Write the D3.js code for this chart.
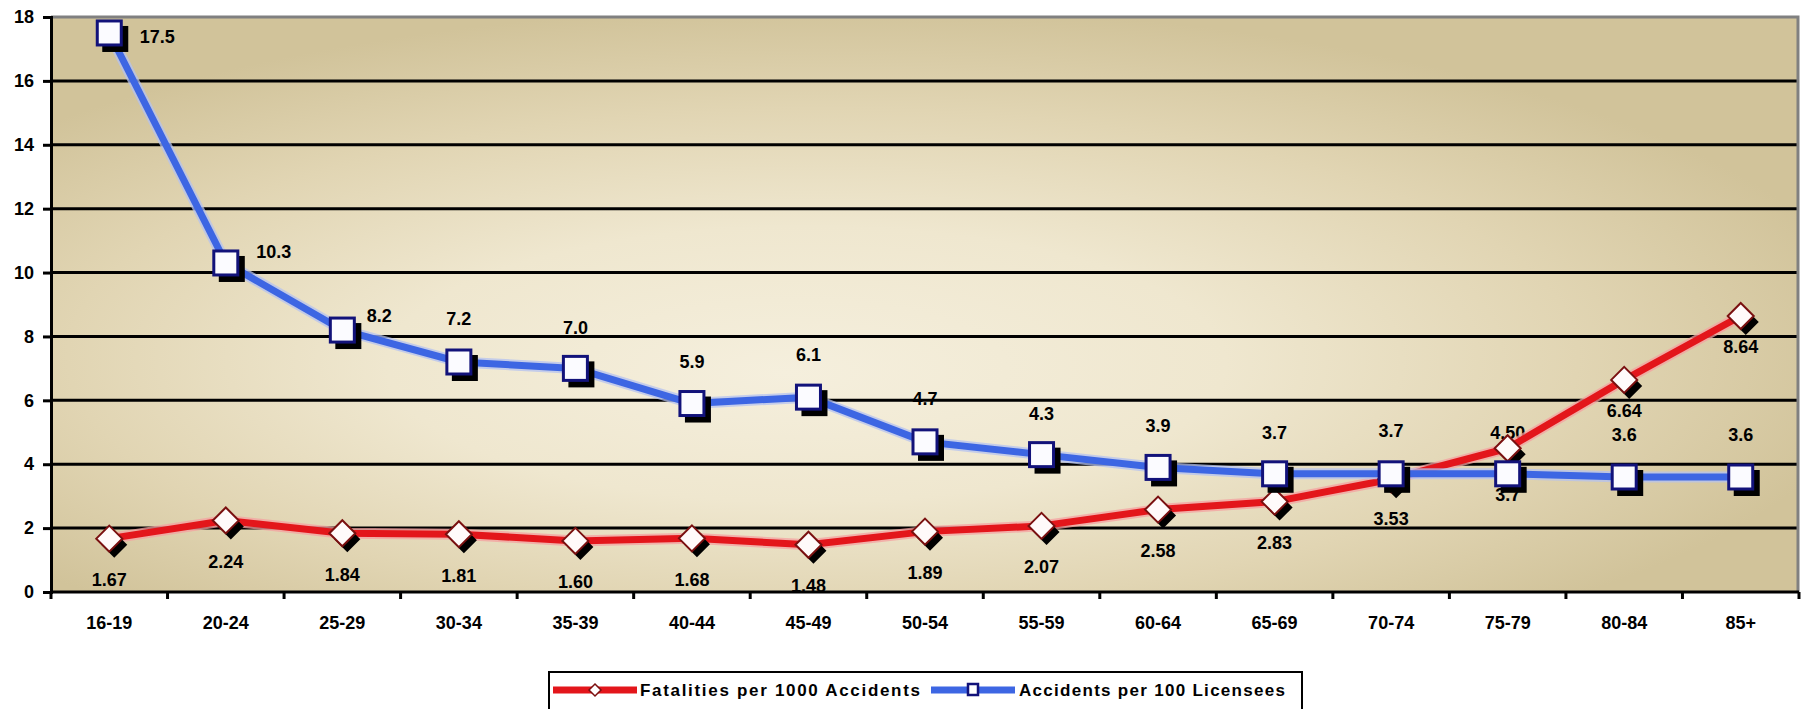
<!DOCTYPE html>
<html>
<head>
<meta charset="utf-8">
<script src="https://cdn.jsdelivr.net/npm/d3@7/dist/d3.min.js"></script>
<style>
  html, body { margin: 0; padding: 0; background: #ffffff; }
  svg { display: block; }
  text { font-family: "Liberation Sans", Arial, sans-serif; font-weight: bold; fill: #000; }
</style>
</head>
<body>
<svg id="chart" width="1802" height="709"></svg>
<script>
// Age groups on the horizontal axis
const categories = ["16-19", "20-24", "25-29", "30-34", "35-39", "40-44", "45-49",
  "50-54", "55-59", "60-64", "65-69", "70-74", "75-79", "80-84", "85+"];

// Fatalities per 1000 accidents
const fatalities = [1.67, 2.24, 1.84, 1.81, 1.60, 1.68, 1.48, 1.89, 2.07, 2.58, 2.83, 3.53, 4.50, 6.64, 8.64];

// Accidents per 100 licensees
const accidents = [17.5, 10.3, 8.2, 7.2, 7.0, 5.9, 6.1, 4.7, 4.3, 3.9, 3.7, 3.7, 3.7, 3.6, 3.6];

// Value axis ticks
const yTicks = [0, 2, 4, 6, 8, 10, 12, 14, 16, 18];

const seriesNames = ["Fatalities per 1000 Accidents", "Accidents per 100 Licensees"];

// Data label placement (pixel offsets from each marker)
const fatalLabelShift = [[0,41],[0,41],[0,41],[0,41],[0,41],[0,41],[0,41],[0,41],[0,41],[0,41],[0,41],[0,39],[0,-16],[0,31],[0,31]];
const accidentLabelShift = [[48,4],[48,-11],[37,-15],[0,-43],[0,-41],[0,-42],[0,-43],[0,-43],[0,-41],[0,-42],[0,-41],[0,-43],[0,21],[0,-42],[0,-42]];

const svg = d3.select("#chart");
const plot = { left: 51, right: 1799, top: 17, bottom: 592 };

const x = d3.scaleBand().domain(categories).range([plot.left, plot.right]);
const cx = c => x(c) + x.bandwidth() / 2;
const y = d3.scaleLinear().domain([0, 18]).range([plot.bottom, plot.top]);

const defs = svg.append("defs");
const bg = defs.append("radialGradient").attr("id", "plotBg")
  .attr("cx", 0.45).attr("cy", 0.58).attr("r", 0.6).attr("fx", 0.42).attr("fy", 0.62);
bg.append("stop").attr("offset", "0%").attr("stop-color", "#f5efdd");
bg.append("stop").attr("offset", "40%").attr("stop-color", "#efe7cf");
bg.append("stop").attr("offset", "72%").attr("stop-color", "#e1d5b3");
bg.append("stop").attr("offset", "100%").attr("stop-color", "#d1c39a");

defs.append("clipPath").attr("id", "plotClip").append("rect")
  .attr("x", plot.left).attr("y", plot.top)
  .attr("width", plot.right - plot.left).attr("height", plot.bottom - plot.top);

// Plot area background
svg.append("rect")
  .attr("x", plot.left).attr("y", plot.top)
  .attr("width", plot.right - plot.left).attr("height", plot.bottom - plot.top)
  .attr("fill", "url(#plotBg)");

// Data labels (sit beneath gridlines and markers)
const labels = svg.append("g").attr("clip-path", "url(#plotClip)").style("font-size", "18px");
labels.selectAll("text.fl").data(fatalities).join("text")
  .attr("class", "fl")
  .attr("x", (d, i) => cx(categories[i]) + fatalLabelShift[i][0])
  .attr("y", (d, i) => y(d) + fatalLabelShift[i][1])
  .attr("dy", "0.36em").attr("text-anchor", "middle")
  .text(d => d.toFixed(2));
labels.selectAll("text.al").data(accidents).join("text")
  .attr("class", "al")
  .attr("x", (d, i) => cx(categories[i]) + accidentLabelShift[i][0])
  .attr("y", (d, i) => y(d) + accidentLabelShift[i][1])
  .attr("dy", "0.36em").attr("text-anchor", "middle")
  .text(d => d.toFixed(1));

// Horizontal gridlines
svg.append("g").selectAll("line").data(yTicks.filter(t => t > 0 && t < 18)).join("line")
  .attr("x1", plot.left).attr("x2", plot.right)
  .attr("y1", d => y(d)).attr("y2", d => y(d))
  .attr("stroke", "#000").attr("stroke-width", 3);

// Plot frame (top and right)
svg.append("path")
  .attr("d", `M${plot.left},${plot.top}H${plot.right - 1}V${plot.bottom}`)
  .attr("fill", "none").attr("stroke", "#808080").attr("stroke-width", 3);

// Value axis
const yAxis = svg.append("g").attr("transform", `translate(${plot.left},0)`)
  .call(d3.axisLeft(y).tickValues(yTicks).tickSize(8).tickPadding(9).tickFormat(d3.format("d")));
yAxis.select(".domain").attr("stroke", "#000").attr("stroke-width", 3);
yAxis.selectAll(".tick line").attr("stroke", "#000").attr("stroke-width", 3);
yAxis.selectAll(".tick text").style("font-size", "18px").style("font-family", "Liberation Sans, Arial, sans-serif").style("font-weight", "bold");

// Category axis: labels centred in bands, tick marks on band edges
const xAxis = svg.append("g").attr("transform", `translate(0,${plot.bottom})`)
  .call(d3.axisBottom(x).tickSize(0).tickPadding(24));
xAxis.select(".domain").remove();
xAxis.selectAll(".tick text").style("font-size", "18px").style("font-family", "Liberation Sans, Arial, sans-serif").style("font-weight", "bold");
svg.append("line")
  .attr("x1", plot.left - 1).attr("x2", plot.right).attr("y1", plot.bottom).attr("y2", plot.bottom)
  .attr("stroke", "#000").attr("stroke-width", 3);
svg.append("g").selectAll("line").data(categories.concat([null])).join("line")
  .attr("x1", (d, i) => plot.left + i * x.bandwidth()).attr("x2", (d, i) => plot.left + i * x.bandwidth())
  .attr("y1", plot.bottom).attr("y2", plot.bottom + 7)
  .attr("stroke", "#000").attr("stroke-width", 3);

// Series lines
const line = d3.line().x((d, i) => cx(categories[i])).y(d => y(d));
function drawLine(values, color, halo) {
  svg.append("path").datum(values).attr("d", line)
    .attr("fill", "none").attr("stroke", halo).attr("stroke-width", 11)
    .attr("stroke-linejoin", "round").attr("opacity", 0.75);
  svg.append("path").datum(values).attr("d", line)
    .attr("fill", "none").attr("stroke", color).attr("stroke-width", 7)
    .attr("stroke-linejoin", "round");
}
drawLine(fatalities, "#e3161b", "#f4a0a0");
drawLine(accidents, "#3d66e3", "#b4c2f0");

// Diamond markers for fatalities
const dia = s => `M0,${-s}L${s},0L0,${s}L${-s},0Z`;
const fm = svg.append("g");
fm.selectAll("path.sh").data(fatalities).join("path").attr("class", "sh")
  .attr("transform", (d, i) => `translate(${cx(categories[i]) + 5},${y(d) + 6})`)
  .attr("d", dia(13)).attr("fill", "#000");
fm.selectAll("path.mk").data(fatalities).join("path").attr("class", "mk")
  .attr("transform", (d, i) => `translate(${cx(categories[i])},${y(d)})`)
  .attr("d", dia(13)).attr("fill", "#fffafa").attr("stroke", "#7a1010").attr("stroke-width", 2);

// Square markers for accidents
const am = svg.append("g");
am.selectAll("rect.sh").data(accidents).join("rect").attr("class", "sh")
  .attr("x", (d, i) => cx(categories[i]) - 13 + 6).attr("y", d => y(d) - 13 + 6)
  .attr("width", 26).attr("height", 26).attr("fill", "#000");
am.selectAll("rect.mk").data(accidents).join("rect").attr("class", "mk")
  .attr("x", (d, i) => cx(categories[i]) - 12).attr("y", d => y(d) - 12)
  .attr("width", 24).attr("height", 24)
  .attr("fill", "#fbfbff").attr("stroke", "#12127a").attr("stroke-width", 3);

// Legend
const lg = svg.append("g");
lg.append("rect").attr("x", 549).attr("y", 672).attr("width", 753).attr("height", 60)
  .attr("fill", "#fff").attr("stroke", "#000").attr("stroke-width", 2);
const legendItems = [
  { name: seriesNames[0], color: "#e3161b", x0: 553, x1: 637, tx: 640, w: 280, mark: "d" },
  { name: seriesNames[1], color: "#3d66e3", x0: 931, x1: 1015, tx: 1019, w: 266, mark: "s" }
];
legendItems.forEach(it => {
  const ly = 690;
  lg.append("line").attr("x1", it.x0).attr("x2", it.x1).attr("y1", ly).attr("y2", ly)
    .attr("stroke", it.color).attr("stroke-width", 7);
  const mx = (it.x0 + it.x1) / 2;
  if (it.mark === "d") {
    lg.append("path").attr("transform", `translate(${mx},${ly})`).attr("d", dia(6))
      .attr("fill", "#fff").attr("stroke", "#7a1010").attr("stroke-width", 1.5);
  } else {
    lg.append("rect").attr("x", mx - 5).attr("y", ly - 6).attr("width", 10).attr("height", 11)
      .attr("fill", "#fff").attr("stroke", "#12127a").attr("stroke-width", 2.5);
  }
  lg.append("text").attr("x", it.tx).attr("y", ly).attr("dy", "0.36em")
    .attr("textLength", it.w).attr("lengthAdjust", "spacing")
    .style("font-size", "17px").text(it.name);
});
</script>
</body>
</html>
